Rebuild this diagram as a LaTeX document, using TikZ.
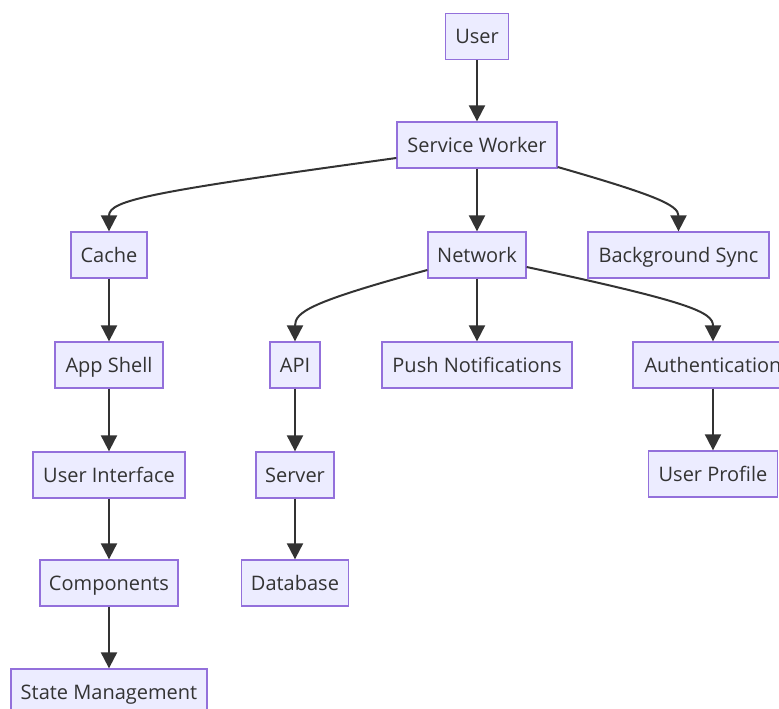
\documentclass[tikz,border=0pt]{standalone}
\usepackage{fontspec}
\setmainfont{Open Sans}
\usetikzlibrary{arrows.meta}
\definecolor{boxfill}{HTML}{ECECFF}
\definecolor{boxline}{HTML}{9370DB}
\definecolor{ink}{HTML}{333333}
\tikzset{
  box/.style={draw=boxline, fill=boxfill, line width=1.3pt, minimum height=46pt,
    inner sep=0pt, text height=16pt, text depth=1.5pt, text=ink,
    font=\fontsize{20pt}{24pt}\selectfont},
  link/.style={draw=ink, line width=2pt,
    -{Triangle[length=16pt,width=16pt]}},
}
\begin{document}
\begin{tikzpicture}[x=1pt,y=-1pt]
\useasboundingbox (0,0) rectangle (779,709);
% nodes
\node[box, minimum width=63pt]  (user) at (477,36.5)  {User};
\node[box, minimum width=160pt] (sw)   at (477,145)   {Service Worker};
\node[box, minimum width=76pt]  (cache) at (109,255)  {Cache};
\node[box, minimum width=98pt]  (net)  at (477,255)   {Network};
\node[box, minimum width=181pt] (bgs)  at (678.5,255) {Background Sync};
\node[box, minimum width=108pt] (shell) at (109,365)  {App Shell};
\node[box, minimum width=50pt]  (api)  at (295,365)   {API};
\node[box, minimum width=190pt] (push) at (477,365)   {Push Notifications};
\node[box, minimum width=160pt] (auth) at (713,365)   {Authentication};
\node[box, minimum width=152pt] (ui)   at (109,475)   {User Interface};
\node[box, minimum width=78pt]  (server) at (295,475) {Server};
\node[box, minimum width=129pt] (prof) at (713,474)   {User Profile};
\node[box, minimum width=138pt] (comp) at (109,583)   {Components};
\node[box, minimum width=107pt] (db)   at (295,583)   {Database};
\node[box, minimum width=196pt] (state) at (109,692)  {State Management};
% connectors
\draw[link] (user) -- (sw);
\draw[link] ([yshift=-13pt]sw.west) .. controls (150,192) and (109,200) .. (cache.north);
\draw[link] (sw) -- (net);
\draw[link] ([yshift=-22pt]sw.east) .. controls (655,195) and (678.5,205) .. (bgs.north);
\draw[link] (cache) -- (shell);
\draw[link] ([yshift=-15pt]net.west) .. controls (310,302) and (295,312) .. (api.north);
\draw[link] (net) -- (push);
\draw[link] ([yshift=-12pt]net.east) .. controls (690,302) and (713,312) .. (auth.north);
\draw[link] (shell) -- (ui);
\draw[link] (api) -- (server);
\draw[link] (auth) -- (prof);
\draw[link] (ui) -- (comp);
\draw[link] (server) -- (db);
\draw[link] (comp) -- (state);
\end{tikzpicture}
\end{document}
